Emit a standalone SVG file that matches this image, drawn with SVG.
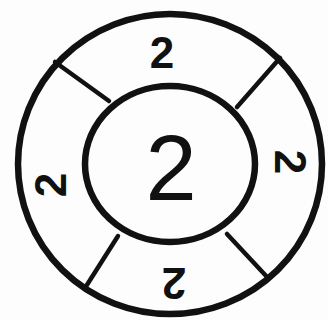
<svg xmlns="http://www.w3.org/2000/svg" width="328" height="320" viewBox="0 0 328 320">
<style>
.ring{fill:none;stroke:#111;stroke-width:6.5}
.div{stroke:#111;stroke-width:4.5;stroke-linecap:round}
.lbl{font-family:"Liberation Sans",Arial,sans-serif;font-weight:bold;font-size:44px;fill:#111;text-anchor:middle;dominant-baseline:central}
.big{font-family:"Liberation Sans",Arial,sans-serif;font-size:92px;fill:#111;text-anchor:middle}
</style>
<rect width="328" height="320" fill="#fdfdfd"/>
<g id="connectors">
<line class="div" x1="55" y1="62" x2="109" y2="101"/>
<line class="div" x1="280" y1="58" x2="237" y2="107"/>
<line class="div" x1="118" y1="236" x2="85" y2="288"/>
<line class="div" x1="227" y1="234" x2="268" y2="278"/>
</g>
<g id="outer">
<ellipse class="ring" cx="170" cy="164" rx="152" ry="150"/>
</g>
<g id="inner">
<ellipse class="ring" cx="170" cy="164" rx="85" ry="78"/>
<text class="big" x="171" y="200">2</text>
</g>
<g id="top"><text class="lbl" transform="translate(162,52)">2</text></g>
<g id="right"><text class="lbl" transform="translate(290,162) rotate(90)">2</text></g>
<g id="bottom"><text class="lbl" transform="translate(174,283) rotate(180)">2</text></g>
<g id="left"><text class="lbl" transform="translate(50,185) rotate(-90)">2</text></g>
</svg>
